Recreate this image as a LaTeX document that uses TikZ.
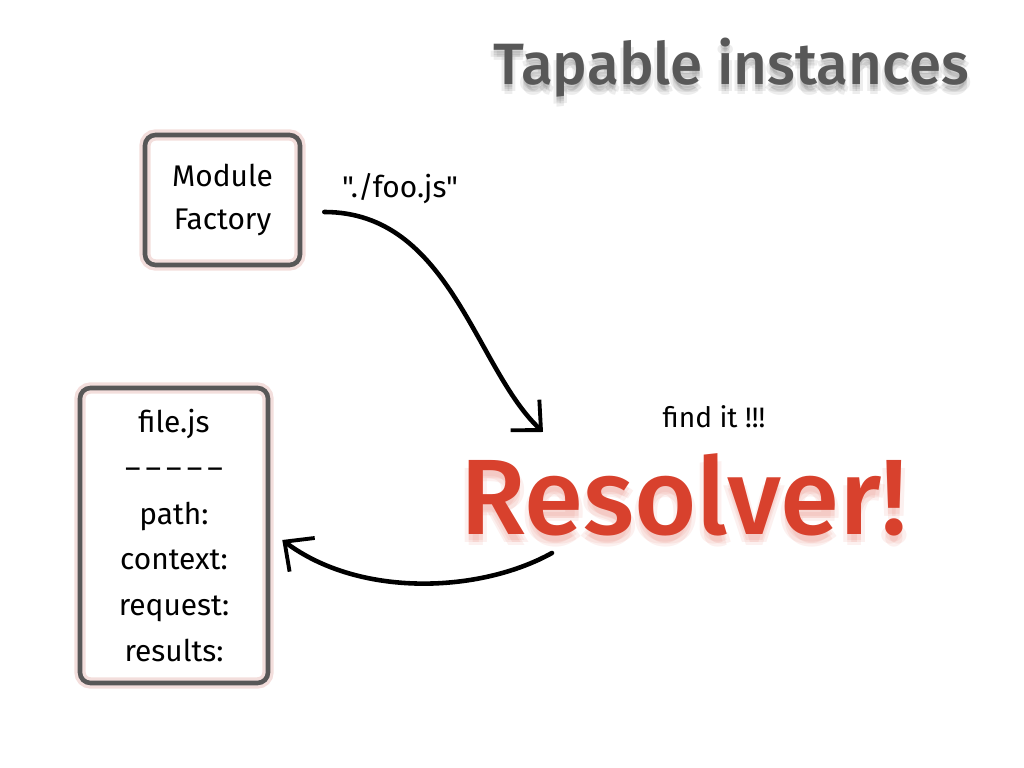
\documentclass[tikz,border=0pt]{standalone}
\usepackage{fontspec}
\setmainfont{Fira Sans}[Ligatures=TeXOff]
\newfontfamily\headfont{Fira Sans Medium}
\usepackage{xcolor}
\usepackage{tikz}
\usetikzlibrary{arrows.meta, positioning, calc}

\definecolor{inkgray}{HTML}{585858}
\definecolor{resolvered}{HTML}{D8412D}
\definecolor{glowpink}{HTML}{F3DEDC}

\begin{document}
\begin{tikzpicture}[
    sketchbox/.style={rectangle, draw=inkgray, line width=1.3pt, rounded corners=3pt,
                      align=center, inner sep=0pt,
                      preaction={draw=glowpink, line width=3.2pt}},
    note/.style={font=\fontsize{8.5}{10}\selectfont, anchor=base},
    titletext/.style={font=\headfont\fontsize{16.6}{19}\selectfont, anchor=base},
    bigtext/.style={font=\headfont\fontsize{30.5}{34}\selectfont, anchor=base},
    brush/.style={line width=1.3pt, line cap=round,
                  -{Straight Barb[length=2.2mm, width=4.2mm, line width=1.1pt]}}
]
\useasboundingbox (0,0) rectangle (10.24,7.68);

% heading with a soft drop shadow
\foreach \dx/\dy [count=\i] in {0/-0.05, -0.03/-0.07, 0.03/-0.07, 0/-0.10, 0/-0.03}
  \node[titletext, text=black, opacity=0.07] (titleshadow\i) at ($(7.31,6.83)+(\dx,\dy)$) {Tapable instances};
\node[titletext, text=inkgray] (title) at (7.31,6.83) {Tapable instances};

\node[sketchbox, minimum width=1.55cm, minimum height=1.30cm,
      font=\fontsize{8.5}{12.5}\selectfont] (factory) at (2.225,5.68) {Module\\Factory};

\node[sketchbox, minimum width=1.88cm, minimum height=2.95cm,
      font=\fontsize{8.5}{13}\selectfont] (file) at (1.74,2.325)
      {file.js\\{\addfontfeatures{LetterSpace=17}–––––}\\path:\\context:\\request:\\results:};

% the resolver, with a red glow under it
\foreach \dx/\dy [count=\i] in {0/-0.06, -0.04/-0.08, 0.04/-0.08, 0/-0.11}
  \node[bigtext, text=resolvered, opacity=0.08] (resolvershadow\i) at ($(6.84,2.33)+(\dx,\dy)$) {Resolver!};
\node[bigtext, text=resolvered] (resolver) at (6.84,2.33) {Resolver!};

\node[note] (request) at (4.00,5.70) {"./foo.js"};
\node[note, font=\fontsize{8}{10}\selectfont] (findit) at (7.14,3.40) {find it !!!};

\draw[brush] ([xshift=2.2mm, yshift=-1.2mm]factory.east)
    .. controls (4.5,5.56) and (4.75,4.0) .. ($(resolver.base)+(-1.41,1.03)$);
\draw[brush] ($(resolver.base)+(-1.32,-0.18)$)
    .. controls (4.8,1.75) and (3.6,1.7) .. ([xshift=1.2mm, yshift=-0.45mm]file.east);

\end{tikzpicture}
\end{document}
